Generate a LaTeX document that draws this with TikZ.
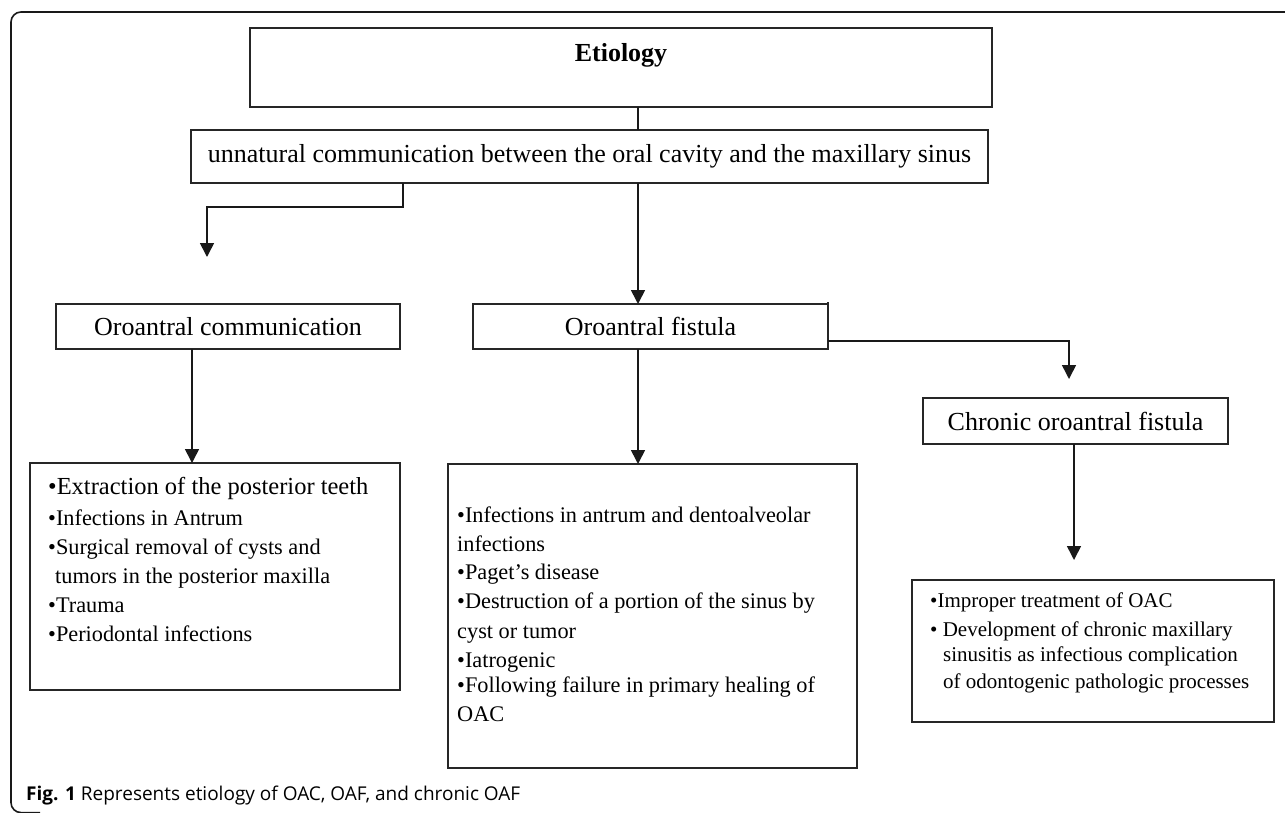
\documentclass[tikz,border=0pt]{standalone}
\usepackage{fontspec}
\setmainfont{Liberation Serif}
\newfontfamily\capfont{Open Sans}
\usetikzlibrary{arrows.meta}
\begin{document}
\begin{tikzpicture}[x=1pt,y=-1pt,
  box/.style={draw=black!85, line width=1.6pt, inner sep=0pt, outer sep=0pt},
  ttl/.style={font=\fontsize{26}{30}\selectfont},
  lst/.style={font=\fontsize{22.3}{28}\selectfont, inner sep=0pt, anchor=base west},
  lstc/.style={font=\fontsize{21}{26}\selectfont, inner sep=0pt, anchor=base west},
  conn/.style={line width=1.6pt, draw=black!90},
  arr/.style={conn, -{Triangle[width=14pt,length=14pt]}},
]
\useasboundingbox (0,0) rectangle (1285,812);
% frame
\draw[line width=1.6pt, black!90, rounded corners=10pt] (40,812.6) -- (11,812.6) -- (11,12) -- (1285,12);

% coordinates for connector columns
\coordinate (xa) at (638,0);
\coordinate (xb) at (403,0);
\coordinate (xo) at (192,0);
\coordinate (xc) at (1074,0);

% boxes
\node[box, minimum width=742pt, minimum height=79pt] (etio) at (621,67.5) {};
\node[inner sep=0pt, font=\bfseries\fontsize{26}{30}\selectfont] (etiot) at (621,55) {Etiology};
\node[box, ttl, minimum width=797pt, minimum height=53pt] (unn) at (589.5,156.5) {unnatural communication between the oral cavity and the maxillary sinus};
\node[box, ttl, minimum width=344pt, minimum height=45pt] (oac) at (228,326.5) {Oroantral communication};
\node[box, ttl, minimum width=355pt, minimum height=45pt] (fist) at (650.5,326.5) {Oroantral fistula};
\node[box, ttl, minimum width=305pt, minimum height=46pt] (chron) at (1075.5,421) {Chronic oroantral fistula};
\draw[line width=2.4pt, black!85] ([yshift=2pt]fist.north east) -- (fist.south east);

\node[box, minimum width=370pt, minimum height=227pt] (llist) at (215,576.5) {};
\node[box, minimum width=409pt, minimum height=304pt] (clist) at (652.5,616) {};
\node[box, minimum width=362pt, minimum height=142pt] (rlist) at (1093,651) {};

% left list text
\node[lst, font=\fontsize{24.5}{28}\selectfont] (l1) at (48,494.5) {•Extraction of the posterior teeth};
\node[lst] (l2) at (48,525) {•Infections in Antrum};
\node[lst] (l3) at (48,554) {•Surgical removal of cysts and};
\node[lst] (l4) at (55,583) {tumors in the posterior maxilla};
\node[lst] (l5) at (48,612) {•Trauma};
\node[lst] (l6) at (48,641) {•Periodontal infections};

% center list text
\node[lst] (c1) at (457,522) {•Infections in antrum and dentoalveolar};
\node[lst] (c2) at (457,551) {infections};
\node[lst] (c3) at (457,579) {•Paget’s disease};
\node[lst] (c4) at (457,608) {•Destruction of a portion of the sinus by};
\node[lst] (c5) at (457,638) {cyst or tumor};
\node[lst] (c6) at (457,667) {•Iatrogenic};
\node[lst] (c7) at (457,692) {•Following failure in primary healing of};
\node[lst] (c8) at (457,721) {OAC};

% right list text
\node[lstc] (r1) at (930,607) {•Improper treatment of OAC};
\node[lstc] (r2) at (930,636) {• Development of chronic maxillary};
\node[lstc] (r3) at (943,661) {sinusitis as infectious complication};
\node[lstc] (r4) at (943,688) {of odontogenic pathologic processes};

% free arrow ends
\coordinate (oacend) at (207,257);
\coordinate (chend) at (1069,379);
\coordinate (rend) at (1074,560);

% connectors
\draw[conn] (xa |- etio.south) -- (xa |- unn.north);
\draw[arr] (xb |- unn.south) -- (403,207) -- (207,207) -- (oacend);
\draw[arr] (xa |- unn.south) -- (xa |- fist.north);
\draw[arr] ([yshift=-14.5pt]fist.east) -- (1069,341) -- (chend);
\draw[arr] (xo |- oac.south) -- (xo |- llist.north);
\draw[arr] (xa |- fist.south) -- (xa |- clist.north);
\draw[arr] (xc |- chron.south) -- (rend);

% caption
\node[anchor=base west, inner sep=0pt, font=\capfont\fontsize{19}{22}\selectfont] (cap) at (26,800) {\textbf{Fig. 1} Represents etiology of OAC, OAF, and chronic OAF};
\end{tikzpicture}
\end{document}
